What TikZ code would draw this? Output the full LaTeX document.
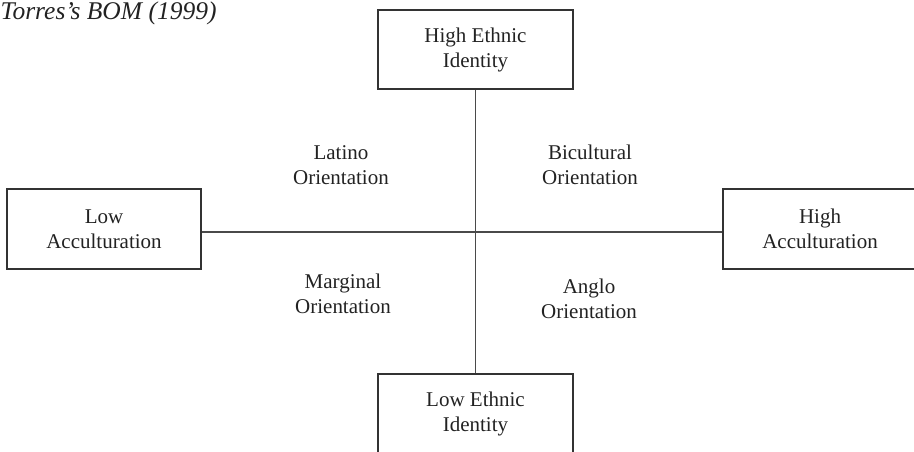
\documentclass[tikz,border=0pt]{standalone}
\usepackage{fontspec}
\setmainfont{Liberation Serif}
\definecolor{txt}{HTML}{222222}
\definecolor{boxgray}{HTML}{333333}
\definecolor{linegray}{HTML}{4A4A4A}
\begin{document}
\begin{tikzpicture}[x=1pt,y=-1pt,
  box/.style={draw=boxgray, line width=1.5pt, minimum width=195pt, minimum height=79pt,
    inner sep=0pt, align=center, font=\fontsize{21}{25}\selectfont, text=txt},
  lbl/.style={align=center, inner sep=0pt, font=\fontsize{21}{25}\selectfont, text=txt},
  axisline/.style={draw=linegray, line width=1.8pt}]
\useasboundingbox (0,0) rectangle (914,452);
\clip (0,0) rectangle (914,452);
\node[anchor=base west, inner sep=0pt, text=txt, font=\fontsize{25.5}{30}\selectfont\itshape] (title) at (0.5,19.5) {Torres’s BOM (1999)};
\node[box] (hei) at (475.5,49.5) {High Ethnic\\Identity};
\node[box] (lei) at (475.5,413.5) {Low Ethnic\\Identity};
\node[box, minimum width=194pt, minimum height=80pt] (lac) at (104,229) {Low\\Acculturation};
\node[box, minimum width=194pt, minimum height=80pt] (hac) at (820,229) {High\\Acculturation};
\coordinate (c) at (475.5,232);
\draw[axisline] (hei) -- (lei);
\draw[axisline] (lac.east |- c) -- (hac.west |- c);
\node[lbl] (lat) at (341,164.8) {Latino\\Orientation};
\node[lbl] (bic) at (590,164.8) {Bicultural\\Orientation};
\node[lbl] (mar) at (343,293.4) {Marginal\\Orientation};
\node[lbl] (ang) at (589,298.4) {Anglo\\Orientation};
\end{tikzpicture}
\end{document}
